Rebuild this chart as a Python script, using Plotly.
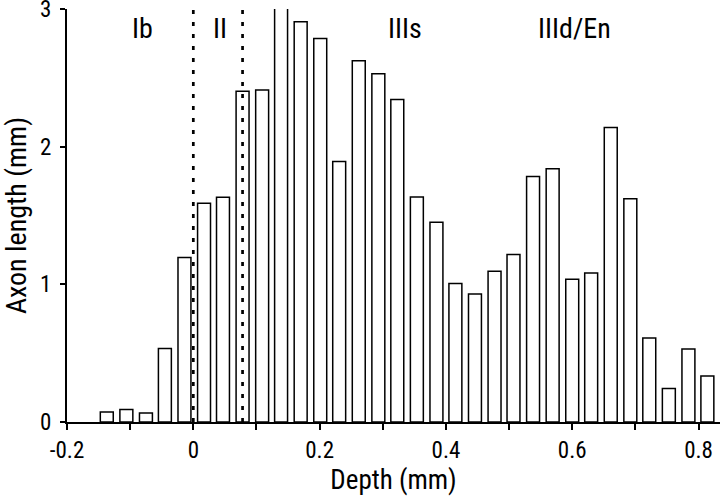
import plotly.graph_objects as go

# Bin centres (depth, mm) and axon length per bin (mm)
depth = [-0.137, -0.106, -0.075, -0.045, -0.014, 0.017, 0.047, 0.078,
         0.109, 0.139, 0.170, 0.201, 0.231, 0.262, 0.293, 0.323,
         0.354, 0.385, 0.415, 0.446, 0.477, 0.507, 0.538, 0.569,
         0.600, 0.630, 0.661, 0.692, 0.722, 0.753, 0.784, 0.814]
axon_length = [0.073, 0.090, 0.065, 0.533, 1.195, 1.589, 1.633, 2.403,
               2.411, 3.021, 2.907, 2.786, 1.892, 2.624, 2.529, 2.343,
               1.635, 1.451, 1.006, 0.930, 1.095, 1.216, 1.783, 1.839,
               1.037, 1.083, 2.139, 1.621, 0.610, 0.243, 0.531, 0.334]

# Laminar boundaries and labels
boundaries = [0.0, 0.078]
layer_names = ["Ib", "II", "IIIs", "IIId/En"]
layer_x = [-0.080, 0.042, 0.335, 0.604]

x_tickvals = [-0.2, 0, 0.2, 0.4, 0.6, 0.8]
x_ticktext = ["-0.2", "0", "0.2", "0.4", "0.6", "0.8"]
y_tickvals = [0, 1, 2, 3]

FONT = "Roboto Condensed, Liberation Sans, sans-serif"

fig = go.Figure()
fig.add_trace(go.Bar(
    x=depth, y=axon_length,
    width=[0.0205] * len(depth),
    marker=dict(color="white", line=dict(color="black", width=1.5)),
    showlegend=False, cliponaxis=False,
))

for b in boundaries:
    fig.add_shape(type="line", xref="x", yref="y", x0=b, x1=b, y0=0, y1=3,
                  line=dict(color="black", width=2.7, dash="4px,8px"),
                  layer="above")

for name, xpos in zip(layer_names, layer_x):
    fig.add_annotation(x=xpos, y=1, xref="x", yref="paper", text=name,
                       showarrow=False, yanchor="top", yshift=-1,
                       font=dict(family=FONT, size=28, color="black"))

fig.update_layout(
    width=720, height=501,
    margin=dict(l=67, r=0, t=9, b=79),
    plot_bgcolor="white", paper_bgcolor="white",
    font=dict(family=FONT, color="black"),
    xaxis=dict(range=[-0.2, 0.834], tickvals=x_tickvals, ticktext=x_ticktext,
               ticks="outside", ticklen=6, tickwidth=2, tickcolor="black",
               minor=dict(dtick=0.1, tick0=0, ticks="outside", ticklen=6,
                          tickwidth=2, tickcolor="black"),
               showline=True, linecolor="black", linewidth=2,
               showgrid=False, zeroline=False, automargin=False,
               tickfont=dict(size=23), ticklabeloverflow="allow",
               title=dict(text="Depth (mm)", font=dict(size=27), standoff=4)),
    yaxis=dict(range=[0, 3], tickvals=y_tickvals,
               ticks="outside", ticklen=5, tickwidth=2, tickcolor="black",
               showline=True, linecolor="black", linewidth=2,
               showgrid=False, zeroline=False, automargin=False,
               tickfont=dict(size=23), ticklabelstandoff=4,
               ticklabeloverflow="allow",
               title=dict(text="Axon length (mm)", font=dict(size=28), standoff=10)),
    bargap=0.3,
)

fig.write_html("out.html", config={"displayModeBar": False},
               post_script="document.body.style.margin='0';document.body.style.padding='0';document.body.style.overflow='hidden';")
